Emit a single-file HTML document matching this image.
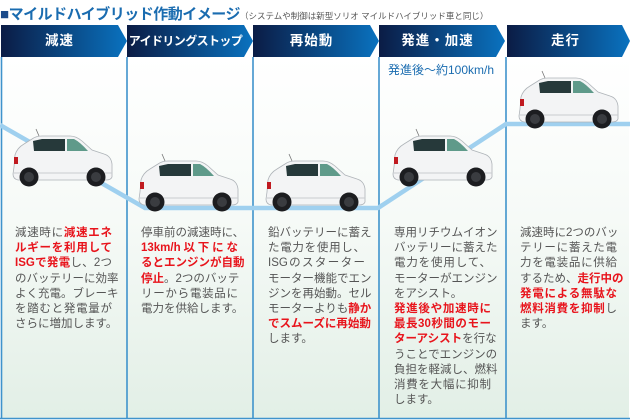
<!DOCTYPE html>
<html><head><meta charset="utf-8"><style>
*{margin:0;padding:0}
body{width:630px;height:420px;background:#fff;position:relative;overflow:hidden;font-family:"Liberation Sans","Noto Sans CJK JP",sans-serif}
.title{position:absolute;left:0;top:3px;white-space:nowrap;color:#1a6cb0;font-weight:bold;font-size:15px;letter-spacing:-0.5px}
.title small{font-size:8.5px;color:#555;font-weight:normal;letter-spacing:0}
.hd{position:absolute;top:32px;line-height:18px;color:#fff;font-weight:bold;font-size:13.5px;text-align:center;width:117px;letter-spacing:1px;white-space:nowrap}
.tx{position:absolute;top:226px;width:97px;font-size:11.5px;line-height:15.2px;color:#555}
.tx div{text-align:justify;text-align-last:justify;white-space:nowrap;height:15.2px}
.tx div.l{text-align-last:left}
.r{color:#e8141c;font-weight:bold}
.sp{position:absolute;left:388px;top:61px;color:#1a6cb0;font-size:12px;white-space:nowrap}
</style></head><body>
<svg width="630" height="420" style="position:absolute;left:0;top:0">
<defs>
<linearGradient id="bg" x1="0" y1="0" x2="0" y2="1"><stop offset="0" stop-color="#fff"/><stop offset="0.45" stop-color="#f6faf7"/><stop offset="1" stop-color="#e2efe6"/></linearGradient>
<linearGradient id="hg" x1="0" y1="0" x2="1" y2="0"><stop offset="0" stop-color="#0b1c45"/><stop offset="1" stop-color="#0a72bf"/></linearGradient>
<g id="car">
<path d="M2 30 L3 18 Q5 11 12 7 L20 2 Q24 -1 30 -1 L58 -1 Q64 -1 70 4 L80 13 L92 17 Q99 19 100 27 L100 40 Q99 43 94 43 L6 43 Q1 42 1 37 Z" fill="#f3f4f5" stroke="#aeb3b8" stroke-width="0.8"/>
<path d="M21 4 L30 2 L53 2 L53 14 L22 14 Z" fill="#26393a"/>
<path d="M55 2 L62 2 Q68 5 76 14 L55 14 Z" fill="#5f9a8a"/>
<rect x="2" y="20" width="4" height="7" fill="#c01a20"/>
<path d="M1 36 L100 36" stroke="#c8ccd0" stroke-width="1"/>
<circle cx="17" cy="40" r="9.5" fill="#1c1d20"/><circle cx="17" cy="40" r="5" fill="#3a3c40"/>
<circle cx="84" cy="40" r="9.5" fill="#1c1d20"/><circle cx="84" cy="40" r="5" fill="#3a3c40"/>
<line x1="27" y1="-1" x2="24" y2="-8" stroke="#777" stroke-width="0.8"/>
</g>
</defs>
<rect x="1" y="57" width="628" height="361" fill="url(#bg)"/>
<g stroke="#3f93cc" stroke-width="1.6">
<line x1="1.5" y1="57" x2="1.5" y2="419"/><line x1="127" y1="57" x2="127" y2="419"/><line x1="253" y1="57" x2="253" y2="419"/><line x1="379" y1="57" x2="379" y2="419"/><line x1="506" y1="57" x2="506" y2="419"/>
<line x1="0" y1="418.5" x2="630" y2="418.5"/>
</g>
<g fill="url(#hg)">
<path d="M1 25 H118 L127 41 L118 57 H1 Z"/>
<path d="M127 25 H244 L253 41 L244 57 H127 Z"/>
<path d="M253 25 H370 L379 41 L370 57 H253 Z"/>
<path d="M379 25 H496 L505 41 L496 57 H379 Z"/>
<path d="M507 25 H622 L630 41 L622 57 H507 Z"/>
</g>
<polyline points="0,125 145,208 378,208 506,124 630,124" fill="none" stroke="#9fd0ef" stroke-width="4.5"/>
<use href="#car" x="12" y="137"/>
<use href="#car" x="138" y="162"/>
<use href="#car" x="265" y="162"/>
<use href="#car" x="392" y="137"/>
<use href="#car" x="518" y="79"/>
</svg>
<div class="title"><span style="color:#1a4a8a">■</span>マイルドハイブリッド作動イメージ<small>（システムや制御は新型ソリオ マイルドハイブリッド車と同じ）</small></div>
<div class="hd" style="left:1px">減速</div>
<div class="hd" style="left:127px;font-size:12px;letter-spacing:-0.6px">アイドリングストップ</div>
<div class="hd" style="left:253px">再始動</div>
<div class="hd" style="left:379px">発進・加速</div>
<div class="hd" style="left:507px">走行</div>
<div class="sp">発進後〜約100km/h</div>
<div class="tx" style="left:15px">
<div>減速時に<span class="r">減速エネ</span></div>
<div><span class="r">ルギーを利用して</span></div>
<div><span class="r">ISGで発電</span>し、2つ</div>
<div>のバッテリーに効率</div>
<div>よく充電。ブレーキ</div>
<div>を踏むと発電量が</div>
<div>さらに増加します。</div>
</div>
<div class="tx" style="left:141px">
<div>停車前の減速時に、</div>
<div><span class="r">13km/h以下にな</span></div>
<div><span class="r">るとエンジンが自動</span></div>
<div><span class="r">停止</span>。2つのバッテ</div>
<div>リーから電装品に</div>
<div class="l">電力を供給します。</div>
</div>
<div class="tx" style="left:268px">
<div>鉛バッテリーに蓄え</div>
<div>た電力を使用し、</div>
<div>ISGのスターター</div>
<div>モーター機能でエン</div>
<div>ジンを再始動。セル</div>
<div>モーターよりも<span class="r">静か</span></div>
<div><span class="r">でスムーズに再始動</span></div>
<div class="l">します。</div>
</div>
<div class="tx" style="left:394px">
<div>専用リチウムイオン</div>
<div>バッテリーに蓄えた</div>
<div>電力を使用して、</div>
<div>モーターがエンジン</div>
<div class="l">をアシスト。</div>
<div><span class="r">発進後や加速時に</span></div>
<div><span class="r">最長30秒間のモー</span></div>
<div><span class="r">ターアシスト</span>を行な</div>
<div>うことでエンジンの</div>
<div>負担を軽減し、燃料</div>
<div>消費を大幅に抑制</div>
<div class="l">します。</div>
</div>
<div class="tx" style="left:520px">
<div>減速時に2つのバッ</div>
<div>テリーに蓄えた電</div>
<div>力を電装品に供給</div>
<div>するため、<span class="r">走行中の</span></div>
<div><span class="r">発電による無駄な</span></div>
<div><span class="r">燃料消費を抑制</span>し</div>
<div class="l">ます。</div>
</div>
</body></html>
